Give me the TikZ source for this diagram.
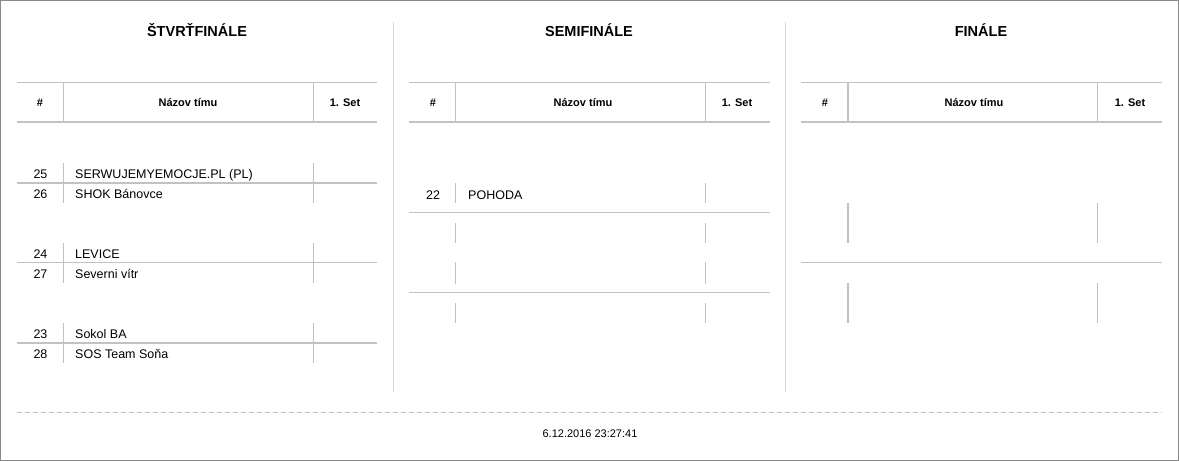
\documentclass[tikz,border=0pt]{standalone}
\usepackage{fontspec}
\setmainfont{Liberation Sans}
\usepackage{tikz}
\usetikzlibrary{positioning}

\definecolor{rulegray}{HTML}{C2C2C2}
\definecolor{sepgray}{HTML}{DADADA}
\definecolor{framegray}{HTML}{8A8A8A}

\tikzset{
  roundtitle/.style={anchor=base,font=\fontsize{14.5}{16}\selectfont\bfseries},
  headtext/.style={anchor=base,font=\fontsize{11}{12}\selectfont\bfseries},
  seednum/.style={anchor=base,font=\fontsize{12.5}{14}\selectfont},
  teamname/.style={anchor=base west,inner xsep=0pt,font=\fontsize{12.5}{14}\selectfont},
  stamp/.style={anchor=base,font=\fontsize{11}{12}\selectfont},
  thinrule/.style={draw=rulegray,line width=1pt},
  thickrule/.style={draw=rulegray,line width=2pt},
  colsep/.style={draw=sepgray,line width=1pt}
}

\begin{document}
\begin{tikzpicture}[x=1pt,y=-1pt]
\useasboundingbox (0,0) rectangle (1179,461);
\draw[framegray, line width=1pt] (0.5,0.5) rectangle (1178.5,460.5);

% column separators
\draw[colsep] (393.5,22) -- (393.5,392);
\draw[colsep] (785.5,22) -- (785.5,392);

% titles
\node[roundtitle] (tq) at (197,36) {ŠTVRŤFINÁLE};
\node[roundtitle] (ts) at (589,36) {SEMIFINÁLE};
\node[roundtitle] (tf) at (981,36) {FINÁLE};

% table heads
\draw[thinrule] (17,82.5) -- (377,82.5);
\draw[thickrule] (17,122) -- (377,122);
\draw[thinrule] (63.5,82) -- (63.5,122);
\draw[thinrule] (313.5,82) -- (313.5,122);
\node[headtext] (hq1) at (40,106.5) {\#};
\node[headtext] (hq2) at (188,106.5) {Názov tímu};
\node[headtext] (hq3) at (345,106.5) {1. Set};

\draw[thinrule] (409,82.5) -- (770,82.5);
\draw[thickrule] (409,122) -- (770,122);
\draw[thinrule] (455.5,82) -- (455.5,122);
\draw[thinrule] (705.5,82) -- (705.5,122);
\node[headtext] (hs1) at (433,106.5) {\#};
\node[headtext] (hs2) at (583,106.5) {Názov tímu};
\node[headtext] (hs3) at (737,106.5) {1. Set};

\draw[thinrule] (801,82.5) -- (1162,82.5);
\draw[thickrule] (801,122) -- (1162,122);
\draw[thickrule] (848,82) -- (848,122);
\draw[thinrule] (1097.5,82) -- (1097.5,122);
\node[headtext] (hf1) at (825,106.5) {\#};
\node[headtext] (hf2) at (974,106.5) {Názov tímu};
\node[headtext] (hf3) at (1130,106.5) {1. Set};

% quarterfinal
\draw[thinrule] (63.5,163) -- (63.5,203);
\draw[thinrule] (313.5,163) -- (313.5,203);
\draw[thickrule] (17,183) -- (377,183);
\node[seednum] (q1a) at (40.5,178.5) {25};
\node[teamname] (q1b) at (75,178.5) {SERWUJEMYEMOCJE.PL (PL)};
\node[seednum] (q2a) at (40.5,198.5) {26};
\node[teamname] (q2b) at (75,198.5) {SHOK Bánovce};

\draw[thinrule] (63.5,243) -- (63.5,283);
\draw[thinrule] (313.5,243) -- (313.5,283);
\draw[thinrule] (17,262.5) -- (377,262.5);
\node[seednum] (q3a) at (40.5,258) {24};
\node[teamname] (q3b) at (75,258) {LEVICE};
\node[seednum] (q4a) at (40.5,278.5) {27};
\node[teamname] (q4b) at (75,278.5) {Severni vítr};

\draw[thinrule] (63.5,323) -- (63.5,363);
\draw[thinrule] (313.5,323) -- (313.5,363);
\draw[thickrule] (17,343) -- (377,343);
\node[seednum] (q5a) at (40.5,338) {23};
\node[teamname] (q5b) at (75,338) {Sokol BA};
\node[seednum] (q6a) at (40.5,358.5) {28};
\node[teamname] (q6b) at (75,358.5) {SOS Team Soňa};

% semifinal
\draw[thinrule] (455.5,183) -- (455.5,203);
\draw[thinrule] (705.5,183) -- (705.5,203);
\draw[thinrule] (455.5,223) -- (455.5,243);
\draw[thinrule] (705.5,223) -- (705.5,243);
\draw[thinrule] (409,212.5) -- (770,212.5);
\node[seednum] (s1a) at (433,199) {22};
\node[teamname] (s1b) at (468,199) {POHODA};

\draw[thinrule] (455.5,262) -- (455.5,284);
\draw[thinrule] (705.5,262) -- (705.5,284);
\draw[thinrule] (455.5,303) -- (455.5,323);
\draw[thinrule] (705.5,303) -- (705.5,323);
\draw[thinrule] (409,292.5) -- (770,292.5);

% final
\draw[thickrule] (848,203) -- (848,243);
\draw[thinrule] (1097.5,203) -- (1097.5,243);
\draw[thinrule] (801,262.5) -- (1162,262.5);
\draw[thickrule] (848,283) -- (848,323);
\draw[thinrule] (1097.5,283) -- (1097.5,323);

% footer
\draw[rulegray, line width=1pt, dash pattern=on 5pt off 3pt] (17,412.5) -- (1162,412.5);
\node[stamp] (date) at (590,437) {6.12.2016 23:27:41};
\end{tikzpicture}
\end{document}
